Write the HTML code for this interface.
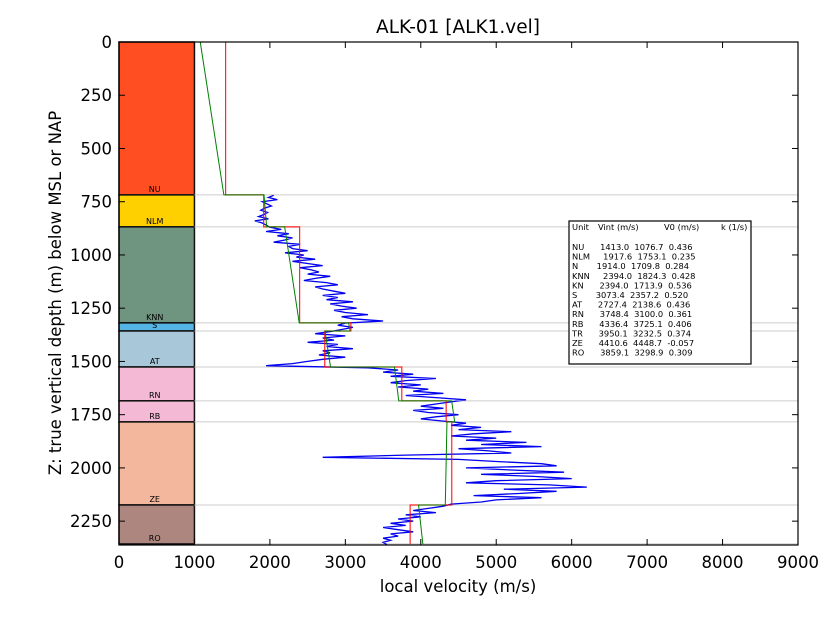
<!DOCTYPE html>
<html><head><meta charset="utf-8"><style>
html,body{margin:0;padding:0;background:#fff;}
svg{display:block;font-family:"DejaVu Sans","Liberation Sans",sans-serif;}
#table text{white-space:pre;}
</style></head><body>
<svg id="chart" width="840" height="630" viewBox="0 0 840 630">
<text x="458" y="33" font-size="18.5" text-anchor="middle">ALK-01 [ALK1.vel]</text>
<g id="layers"></g>
<g id="grid"></g>
<g id="log"></g>
<g id="model"></g>
<rect x="119" y="42" width="679" height="503" fill="none" stroke="#000" stroke-width="1.2"/>
<g id="ticks"></g>
<text x="458" y="592" font-size="16.5" text-anchor="middle">local velocity (m/s)</text>
<text transform="translate(61,293) rotate(-90)" font-size="16.5" text-anchor="middle">Z: true vertical depth (m) below MSL or NAP</text>
<g>
<rect x="569" y="221" width="182" height="143" fill="#fff" stroke="#000" stroke-width="1.2"/>
<g id="table" font-size="8.3"></g>
</g>
</svg>
<script>
const units=["NU","NLM","KNN","S","AT","RN","RB","ZE","RO"];
const tops=[0,718,868,1319,1357,1526,1685,1784,2174];
const bottoms=[718,868,1319,1357,1526,1685,1784,2174,2357];
const vint=[1413.0,1917.6,2394.0,3073.4,2727.4,3748.4,4336.4,4410.6,3859.1];
const v0=[1076.7,1753.1,1824.3,2357.2,2138.6,3100.0,3725.1,4448.7,3298.9];
const kval=[0.436,0.235,0.428,0.520,0.436,0.361,0.406,-0.057,0.309];
const colors=["#ff4f22","#ffd000","#6f9580","#55b5e5","#a8c8da","#f4b9d5","#f4b9d5","#f3b79d","#ae8680"];
const tableRows=[["NU","1413.0","1076.7","0.436"],["NLM","1917.6","1753.1","0.235"],["N","1914.0","1709.8","0.284"],["KNN","2394.0","1824.3","0.428"],["KN","2394.0","1713.9","0.536"],["S","3073.4","2357.2","0.520"],["AT","2727.4","2138.6","0.436"],["RN","3748.4","3100.0","0.361"],["RB","4336.4","3725.1","0.406"],["TR","3950.1","3232.5","0.374"],["ZE","4410.6","4448.7","-0.057"],["RO","3859.1","3298.9","0.309"]];
const xTicks=[0,1000,2000,3000,4000,5000,6000,7000,8000,9000];
const yTicks=[0,250,500,750,1000,1250,1500,1750,2000,2250];
const logStart=720, logStep=10;
const logVel=[2050,1980,2100,1900,1960,2020,1930,1880,1970,1920,1850,1980,1800,1900,1950,
2000,2150,1950,2250,2100,2300,2200,2050,2400,2250,2300,2500,2200,2450,2350,2600,2300,2500,2700,2400,2550,2650,2500,2800,2600,2450,2750,2900,2600,2700,2850,3000,2700,2900,2750,3100,2800,2950,3150,2850,3000,3300,2950,3100,3500,
3000,2900,3100,2950,
2800,2600,3000,2700,2850,2500,2900,2750,3100,2700,2800,2650,3000,2700,2500,2300,1950,
3300,3700,3500,3900,3600,4200,3800,3600,4000,3700,4100,3900,4300,3800,4200,4600,
4400,4200,4000,4300,3900,4100,4500,4200,4000,4300,
4600,4400,4800,4500,5200,4700,4400,5000,4600,5400,4800,5600,4500,4900,5200,3800,2700,4500,5000,5600,5800,4600,5200,5900,4800,5500,6000,5000,4600,5700,6200,5100,5800,5300,4700,5600,5000,4800,4400,
4300,4100,3900,4200,3800,4000,3700,3900,3600,3800,3500,3700,3900,3600,3700,3500,3600,3500,3550];

const NS="http://www.w3.org/2000/svg";
const X0=119,X1=798,Y0=42,Y1=545,VMAX=9000,ZMAX=2362;
const sx=v=>X0+(X1-X0)*v/VMAX;
const sy=z=>Y0+(Y1-Y0)*z/ZMAX;
function mk(tag,attrs,parent){const e=document.createElementNS(NS,tag);for(const k in attrs)e.setAttribute(k,attrs[k]);document.getElementById(parent).appendChild(e);return e;}

units.forEach((u,i)=>{
  const r=mk('rect',{x:sx(0),y:sy(tops[i]),width:sx(1000)-sx(0),height:sy(bottoms[i])-sy(tops[i]),fill:colors[i],stroke:'#111','stroke-width':1.5},'layers');
  
  
  const t=mk('text',{x:sx(500)-2,y:sy(bottoms[i])-3,'font-size':8,'text-anchor':'middle'},'layers');
  t.textContent=u;
  
  
  const g=mk('line',{x1:sx(1000),x2:X1,y1:sy(bottoms[i]),y2:sy(bottoms[i]),stroke:'#ccc','stroke-width':1},'grid');
  
  
});

let pts=logVel.map((v,i)=>sx(v).toFixed(1)+','+sy(logStart+i*logStep).toFixed(1)).join(' ');
const pl=mk('polyline',{points:pts,fill:'none',stroke:'#0000ee','stroke-width':1.3},'log');



let red='',green='';
units.forEach((u,i)=>{
  red+=(i?' L':'M')+sx(vint[i])+','+sy(tops[i])+' L'+sx(vint[i])+','+sy(bottoms[i]);
  green+=(i?' L':'M')+sx(v0[i]+kval[i]*tops[i])+','+sy(tops[i])+' L'+sx(v0[i]+kval[i]*bottoms[i])+','+sy(bottoms[i]);
});
const rl=mk('path',{d:red,fill:'none',stroke:'#ff0000','stroke-width':1.2,'stroke-opacity':0.85},'model');


const gl=mk('path',{d:green,fill:'none',stroke:'#008000','stroke-width':1},'model');



xTicks.forEach(v=>{
  mk('line',{x1:sx(v),x2:sx(v),y1:Y1,y2:Y1-6,stroke:'#000'},'ticks');
  mk('line',{x1:sx(v),x2:sx(v),y1:Y0,y2:Y0+6,stroke:'#000'},'ticks');
  const t=mk('text',{x:sx(v),y:Y1+23,'font-size':16.5,'text-anchor':'middle'},'ticks');
  t.textContent=v;
  
  
});
yTicks.forEach(z=>{
  mk('line',{x1:X0,x2:X0+6,y1:sy(z),y2:sy(z),stroke:'#000'},'ticks');
  mk('line',{x1:X1,x2:X1-6,y1:sy(z),y2:sy(z),stroke:'#000'},'ticks');
  const t=mk('text',{x:X0-7,y:sy(z)+6,'font-size':16.5,'text-anchor':'end'},'ticks');
  t.textContent=z;
  
  
});

const hdr=[["Unit",572],["Vint (m/s)",598],["V0 (m/s)",664],["k (1/s)",721]];
hdr.forEach(h=>{const t=mk('text',{x:h[1],y:230},'table');t.textContent=h[0];
  
  });
tableRows.forEach((r,i)=>{
  const t=mk('text',{x:572,y:250+i*9.6},'table');
  t.textContent=r[0]+' '.repeat(Math.max(1,8-r[0].length))+r[1]+'  '+r[2]+'  '+r[3];
  
  
});
</script>
</body></html>
